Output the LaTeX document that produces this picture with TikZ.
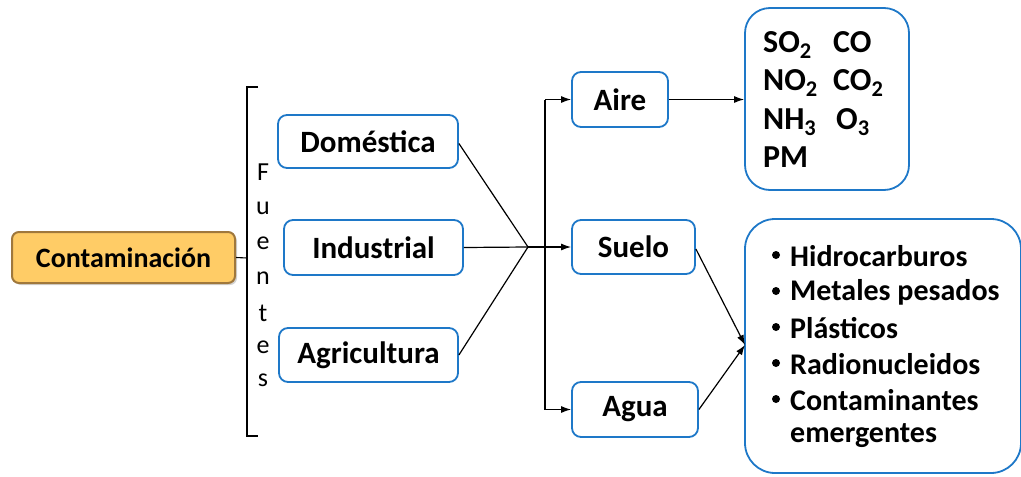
\documentclass[tikz,border=0pt]{standalone}
\usepackage{fontspec}
\setmainfont{Carlito}
\usetikzlibrary{arrows.meta,shadows}
\definecolor{bblue}{HTML}{1E78C8}
\definecolor{ofill}{HTML}{FFCC66}
\definecolor{odraw}{HTML}{A0783C}
\tikzset{
  box/.style={draw=bblue,line width=1.8pt,rounded corners=9pt,fill=white,font=\fontsize{31}{36}\selectfont\bfseries,inner sep=0pt,anchor=center},
  conn/.style={line width=1.2pt,draw=black},
  arr/.style={conn,-{Latex[length=10pt,width=7pt]}},
  letter/.style={font=\fontsize{26}{30}\selectfont,inner sep=0pt},
  gtxt/.style={anchor=base west,inner sep=0pt,font=\fontsize{32}{38}\selectfont\bfseries},
  ltxt/.style={anchor=west,inner sep=0pt,font=\fontsize{30}{34}\selectfont\bfseries},
  bul/.style={circle,fill=black,inner sep=0pt,minimum size=8pt},
}
\begin{document}
\begin{tikzpicture}[x=1pt,y=-1pt]
\useasboundingbox (0,0) rectangle (1021,477);
% main node
\node[draw=odraw,line width=2pt,fill=ofill,rounded corners=7pt,minimum width=223pt,minimum height=51pt,inner sep=0pt,font=\fontsize{28}{32}\selectfont\bfseries,drop shadow={shadow xshift=2pt,shadow yshift=-2pt,opacity=0.35}] (cont) at (123.5,257.5) {Contaminación};
% brace
\coordinate (bt) at (247,87);
\coordinate (bb) at (247,436);
\coordinate (bm) at (247,258);
\draw[line width=1.1pt] (258,87) -- (bt) -- (bb) -- (258,436);
\draw[line width=1.1pt] (cont.east) -- (bm);
% Fuentes
\foreach \l/\y [count=\i] in {F/172,u/208,e/243,n/278,t/313,e/347,s/380}
  \node[letter] (f\i) at (263,\y) {\l};
% sources
\node[box,minimum width=180pt,minimum height=53pt] (dom) at (368,141.5) {Doméstica};
\node[box,minimum width=179pt,minimum height=55pt] (ind) at (373.5,247.5) {Industrial};
\node[box,minimum width=179pt,minimum height=54pt] (agr) at (368.5,355) {Agricultura};
% targets
\node[box,minimum width=96pt,minimum height=55pt] (aire) at (620,99.5) {Aire};
\node[box,minimum width=123pt,minimum height=54pt] (suelo) at (633.5,247) {Suelo};
\node[box,minimum width=126pt,minimum height=55pt] (agua) at (635,409.5) {Agua};
% junction
\coordinate (j) at (528,247);
\draw[conn] (dom.east) ++(0,2) -- (j);
\draw[conn] (ind.east) -- (j);
\draw[conn] (agr.east) -- (j);
\coordinate (vt) at (545,99.5);
\coordinate (vb) at (545,409.5);
\draw[conn] (j) -- (545,247);
\draw[arr] (vt) -- (aire.west);
\draw[arr] (vb) -- (agua.west);
\draw[arr] (j) -- (suelo.west);
\draw[conn] (vt) -- (vb);
% gases box
\node[draw=bblue,line width=1.8pt,rounded corners=25pt,minimum width=164pt,minimum height=182pt,inner sep=0pt] (gas) at (827,99) {};
\node[gtxt] (g1) at (763,52) {SO$_\mathbf{2}$};
\node[gtxt] (g2) at (833,52) {CO};
\node[gtxt] (g3) at (763,90) {NO$_\mathbf{2}$};
\node[gtxt] (g4) at (833,90) {CO$_\mathbf{2}$};
\node[gtxt] (g5) at (763,129) {NH$_\mathbf{3}$};
\node[gtxt] (g6) at (836,129) {O$_\mathbf{3}$};
\node[gtxt] (g7) at (763,167) {PM};
% list box
\node[draw=bblue,line width=1.8pt,rounded corners=30pt,minimum width=276pt,minimum height=254pt,inner sep=0pt] (lst) at (883,346) {};
\foreach \t/\y [count=\i] in {Hidrocarburos/256,Metales pesados/292,Plásticos/328,Radionucleidos/364,Contaminantes/400}{
  \node[ltxt] (li\i) at (790,\y) {\t};
  \node[bul] (b\i) at (776,\y-1) {};
}
\node[ltxt] (li6) at (790,436) {emergentes};
% arrows
\draw[arr] (aire.east) -- (gas.west |- aire.east);
\coordinate (lp) at (745,345);
\draw[arr] (suelo.east) ++(0,2) -- (lp);
\draw[arr] (agua.east) -- (lp);
\end{tikzpicture}
\end{document}
